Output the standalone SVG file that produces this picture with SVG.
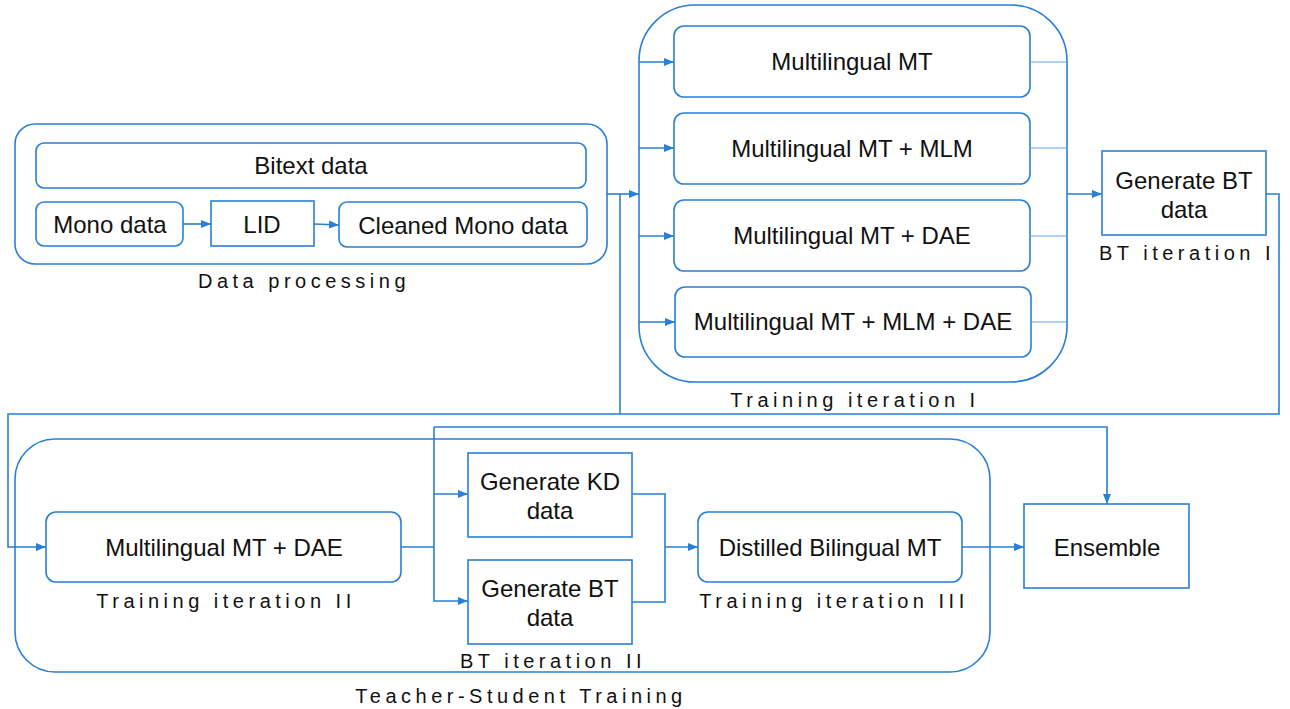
<svg xmlns="http://www.w3.org/2000/svg" width="1290" height="709" viewBox="0 0 1290 709">
<style>
.box{fill:#fff;stroke:#2a7fd6;stroke-width:1.6}
.grp{fill:none;stroke:#2a7fd6;stroke-width:1.6}
.t{font-family:"Liberation Sans",Arial,sans-serif;font-size:24px;fill:#111;text-anchor:middle}
.lb{font-family:"Liberation Sans",Arial,sans-serif;font-size:20px;letter-spacing:4.5px;fill:#111;text-anchor:middle}
.c{fill:none;stroke:#2a7fd6;stroke-width:1.6}
.thin{fill:none;stroke:#6aa8e6;stroke-width:1}
</style>
<defs>
<marker id="ah" viewBox="0 0 10 10" refX="10" refY="5" markerWidth="10" markerHeight="10" markerUnits="userSpaceOnUse" orient="auto">
<path d="M0,1 L10,5 L0,9 Z" fill="#2a7fd6"/>
</marker>
</defs>
<rect width="1290" height="709" fill="#fff"/>

<g id="data-processing">
<rect class="grp" x="15" y="124" width="592" height="140" rx="20"/>
<text class="lb" x="304" y="288">Data processing</text>
</g>
<g id="bitext"><rect class="box" x="36" y="143" width="550" height="45" rx="8"/><text class="t" x="311" y="174">Bitext data</text></g>
<g id="mono"><rect class="box" x="36" y="202" width="147" height="44" rx="8"/><text class="t" x="110" y="233">Mono data</text></g>
<g id="lid"><rect class="box" x="211" y="201" width="103" height="45"/><text class="t" x="262" y="233">LID</text></g>
<g id="cleaned"><rect class="box" x="339" y="202" width="248" height="45" rx="8"/><text class="t" x="463" y="234">Cleaned Mono data</text></g>

<g id="training-1">
<rect class="grp" x="639" y="5" width="428" height="377" rx="56"/>
<text class="lb" x="855" y="407">Training iteration I</text>
</g>
<g id="mmt"><rect class="box" x="674" y="26" width="356" height="71" rx="10"/><text class="t" x="852" y="70">Multilingual MT</text></g>
<g id="mmt-mlm"><rect class="box" x="674" y="113" width="356" height="71" rx="10"/><text class="t" x="852" y="157">Multilingual MT + MLM</text></g>
<g id="mmt-dae"><rect class="box" x="674" y="200" width="356" height="71" rx="10"/><text class="t" x="852" y="244">Multilingual MT + DAE</text></g>
<g id="mmt-mlm-dae"><rect class="box" x="675" y="287" width="356" height="70" rx="10"/><text class="t" x="853" y="330">Multilingual MT + MLM + DAE</text></g>

<g id="gen-bt-1">
<rect class="box" x="1102" y="151" width="164" height="84"/>
<text class="t" x="1184" y="189">Generate BT</text>
<text class="t" x="1184" y="218">data</text>
<text class="lb" x="1187" y="260">BT iteration I</text>
</g>

<g id="teacher-student">
<rect class="grp" x="15" y="439" width="975" height="233" rx="40"/>
<text class="lb" x="521" y="703">Teacher-Student Training</text>
</g>
<g id="mmt-dae-2"><rect class="box" x="46" y="512" width="355" height="70" rx="10"/><text class="t" x="224" y="556">Multilingual MT + DAE</text><text class="lb" x="226" y="608">Training iteration II</text></g>
<g id="gen-kd"><rect class="box" x="468" y="453" width="164" height="84"/><text class="t" x="550" y="490">Generate KD</text><text class="t" x="550" y="519">data</text></g>
<g id="gen-bt-2"><rect class="box" x="468" y="560" width="164" height="84"/><text class="t" x="550" y="597">Generate BT</text><text class="t" x="550" y="626">data</text><text class="lb" x="553" y="668">BT iteration II</text></g>
<g id="distilled"><rect class="box" x="698" y="512" width="264" height="70" rx="10"/><text class="t" x="830" y="556">Distilled Bilingual MT</text><text class="lb" x="834" y="608">Training iteration III</text></g>
<g id="ensemble"><rect class="box" x="1024" y="504" width="165" height="84"/><text class="t" x="1107" y="556">Ensemble</text></g>

<g id="connectors">
<line class="c" x1="183" y1="224" x2="211" y2="224" marker-end="url(#ah)"/>
<line class="c" x1="314" y1="224" x2="339" y2="225" marker-end="url(#ah)"/>
<line class="c" x1="607" y1="194" x2="639" y2="194" marker-end="url(#ah)"/>
<line class="c" x1="639" y1="62" x2="674" y2="62" marker-end="url(#ah)"/>
<line class="c" x1="639" y1="148" x2="674" y2="148" marker-end="url(#ah)"/>
<line class="c" x1="639" y1="236" x2="674" y2="236" marker-end="url(#ah)"/>
<line class="c" x1="639" y1="322" x2="675" y2="322" marker-end="url(#ah)"/>
<line class="thin" x1="1030" y1="62" x2="1067" y2="62"/>
<line class="thin" x1="1030" y1="148" x2="1067" y2="148"/>
<line class="thin" x1="1030" y1="236" x2="1067" y2="236"/>
<line class="thin" x1="1031" y1="322" x2="1067" y2="322"/>
<line class="c" x1="1067" y1="194" x2="1102" y2="194" marker-end="url(#ah)"/>
<polyline class="c" points="620,194 620,414"/>
<polyline class="c" points="1266,194 1279,194 1279,414 8,414 8,547 46,547" marker-end="url(#ah)"/>
<polyline class="c" points="401,547 434,547"/>
<polyline class="c" points="434,427 1107,427 1107,504" marker-end="url(#ah)"/>
<polyline class="c" points="434,427 434,601 468,601" marker-end="url(#ah)"/>
<line class="c" x1="434" y1="494" x2="468" y2="494" marker-end="url(#ah)"/>
<polyline class="c" points="632,494 665,494 665,602 632,602"/>
<line class="c" x1="665" y1="547" x2="698" y2="547" marker-end="url(#ah)"/>
<line class="c" x1="962" y1="547" x2="1024" y2="547" marker-end="url(#ah)"/>
</g>
</svg>
